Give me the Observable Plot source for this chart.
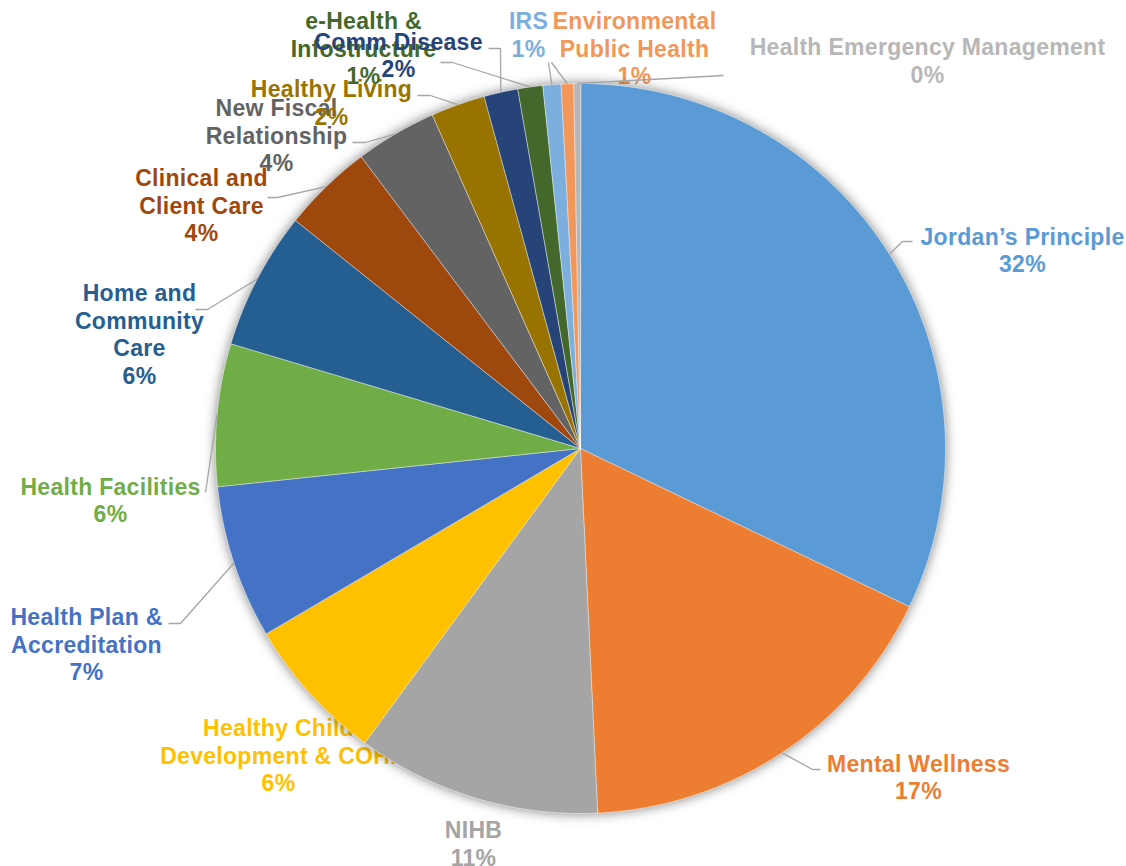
<!DOCTYPE html>
<html><head><meta charset="utf-8">
<script src="https://cdn.jsdelivr.net/npm/d3@7"></script>
<script src="https://cdn.jsdelivr.net/npm/@observablehq/plot@0.6"></script>
<style>
html,body{margin:0;padding:0;background:#fff;}
#chart svg{display:block;}
</style></head><body><div id="chart"></div>
<script>
// ---- data ----
const categories = ["Jordan’s Principle","Mental Wellness","NIHB","Healthy Child Development & COHI","Health Plan & Accreditation","Health Facilities","Home and Community Care","Clinical and Client Care","New Fiscal Relationship","Healthy Living","Comm Disease","e-Health & Infostructure","IRS","Environmental Public Health","Health Emergency Management"];
const shares = [32.1,17.1,10.8,6.45,6.8,6.3,6.1,4.0,3.6,2.4,1.5,1.1,0.8,0.55,0.3];
const labelLines = [["Jordan’s Principle"],["Mental Wellness"],["NIHB"],["Healthy Child","Development & COHI"],["Health Plan &","Accreditation"],["Health Facilities"],["Home and","Community","Care"],["Clinical and","Client Care"],["New Fiscal","Relationship"],["Healthy Living"],["Comm Disease"],["e-Health &","Infostructure"],["IRS"],["Environmental","Public Health"],["Health Emergency Management"]];
const colors = ["#5B9BD5","#ED7D31","#A5A5A5","#FFC000","#4472C4","#70AD47","#255E91","#9E480E","#636363","#997300","#264478","#43682B","#7CAFDD","#F1975A","#B7B7B7"];

// ---- layout (pixels) ----
const W = 1126, H = 866, CX = 580, CY = 448, R = 365;
const labelPos = [[1022,249],[918,776],[473,842.5],[278,754.5],[86,643.5],[110,499],[139,333],[201,204.5],[276,134.5],[331,101.5],[398,54],[363,47.5],[528,33.5],[634,47.5],[927,59.5]];
const leaderPts = [[[912,241],[902,241]],[[820,769],[812,769]],null,null,[[168,623],[180,623]],[[205,492]],[[195,309],[207,309]],[[267,197],[277,197]],[[352,142],[365,142]],[[417,95],[430,95]],[[488,48],[500,48]],[[440,62],[452,62]],[[548,62]],[[551,62]],[[723,75]]];
const drawOrder = [0,1,2,3,4,5,6,7,8,9,11,10,12,13,14];

const X = px => (px - CX) / R;
const Y = py => (CY - py) / R;

const total = d3.sum(shares);
const arcs = d3.pie().sort(null).value(d => d)(shares);

// slice polygons
const slicePts = [];
arcs.forEach((a, i) => {
  const name = categories[i];
  slicePts.push({name, x: 0, y: 0});
  const n = Math.max(2, Math.ceil((a.endAngle - a.startAngle) / (Math.PI / 360)));
  for (let k = 0; k <= n; k++) {
    const t = a.startAngle + (a.endAngle - a.startAngle) * k / n;
    slicePts.push({name, x: Math.sin(t), y: Math.cos(t)});
  }
});

// labels
const labels = drawOrder.map(i => ({
  name: categories[i],
  text: labelLines[i].join("\n") + "\n" + Math.round(shares[i] / total * 100) + "%",
  x: X(labelPos[i][0]), y: Y(labelPos[i][1])
}));

// leader lines
const leaders = [];
arcs.forEach((a, i) => {
  if (!leaderPts[i]) return;
  const mid = (a.startAngle + a.endAngle) / 2;
  leaderPts[i].forEach(p => leaders.push({name: categories[i], x: X(p[0]), y: Y(p[1])}));
  leaders.push({name: categories[i], x: Math.sin(mid), y: Math.cos(mid)});
});

const chart = Plot.plot({
  width: W, height: H,
  marginTop: 0, marginRight: 0, marginBottom: 0, marginLeft: 0,
  x: {domain: [X(0), X(W)], axis: null},
  y: {domain: [Y(H), Y(0)], axis: null},
  color: {domain: categories, range: colors},
  style: {fontFamily: "'Liberation Sans', Arial, sans-serif", background: "#fff"},
  marks: [
    Plot.text(labels, {x: "x", y: "y", text: "text", fill: "name", fontSize: 23, fontWeight: "bold",
      lineHeight: 1.2, textAnchor: "middle", lineAnchor: "middle"}),
    Plot.line(slicePts, {x: "x", y: "y", z: "name", fill: "name", stroke: "#fff", strokeWidth: 0.5, curve: "linear-closed"}),
    Plot.line(leaders, {x: "x", y: "y", z: "name", stroke: "#A6A6A6", strokeWidth: 1.3, strokeLinecap: "butt", strokeLinejoin: "miter"})
  ]
});
document.getElementById("chart").appendChild(chart);
const pieG = chart.querySelectorAll('g[aria-label="line"]')[0];
if (pieG) pieG.style.filter = "drop-shadow(0px 0px 6px rgba(0,0,0,0.5))";
const textG = chart.querySelector('g[aria-label="text"]');
if (textG) textG.style.letterSpacing = "0.3px";
</script></body></html>
